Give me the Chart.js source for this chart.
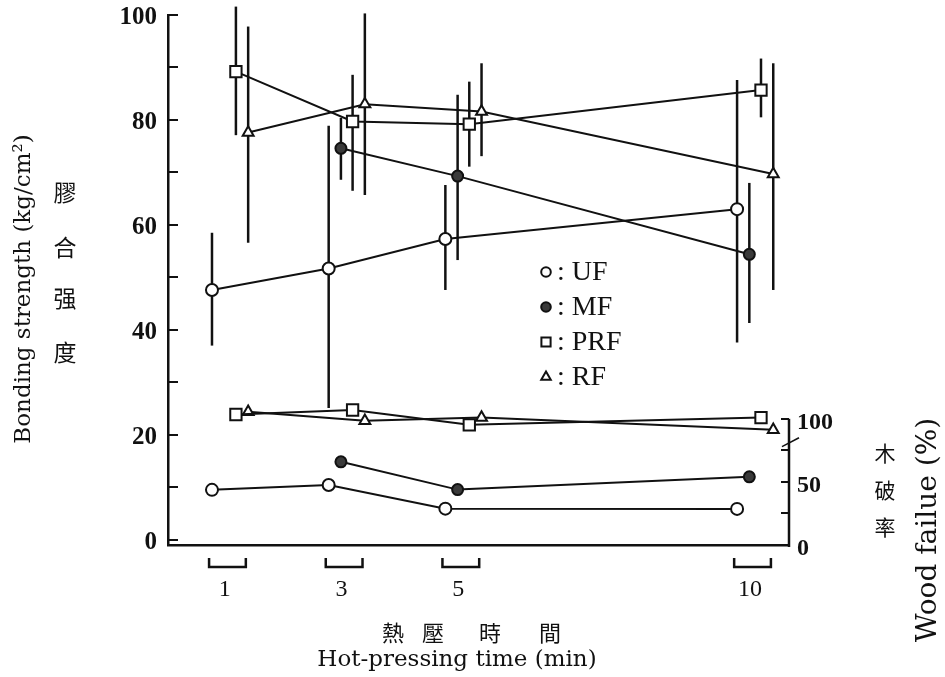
<!DOCTYPE html>
<html>
<head>
<meta charset="utf-8">
<script src="https://cdn.jsdelivr.net/npm/chart.js@4.4.1/dist/chart.umd.min.js"></script>
<style>
  html, body { margin: 0; padding: 0; background: #fff; }
</style>
</head>
<body>
<canvas id="chart" width="945" height="677"></canvas>
<script>
// hot-pressing time (min)
const pressTimes = [1, 3, 5, 10];
const timeLabels = ['1', '3', '5', '10'];

// bonding strength (kg/cm2): mean, lower and upper end of the bar
const ufStrength = [47.6, 51.7, 57.3, 63.0];
const ufLow = [37.0, 25.1, 47.6, 37.6];
const ufHigh = [58.5, 78.9, 67.6, 87.6];

const mfStrength = [null, 74.6, 69.3, 54.4];
const mfLow = [null, 68.6, 53.3, 41.3];
const mfHigh = [null, 80.4, 84.8, 68.0];

const prfStrength = [89.2, 79.7, 79.2, 85.7];
const prfLow = [77.1, 66.5, 71.1, 80.5];
const prfHigh = [101.6, 88.6, 87.3, 91.7];

const rfStrength = [77.6, 83.0, 81.6, 69.7];
const rfLow = [56.6, 65.7, 73.1, 47.6];
const rfHigh = [97.8, 100.3, 90.8, 90.8];

// wood failure (%)
const ufWood = [43.7, 47.6, 28.8, 28.6];
const mfWood = [null, 65.9, 43.9, 54.0];
const prfWood = [103.4, 107.0, 95.2, 101.0];
const rfWood = [105.6, 98.4, 101.0, 91.3];

// axis ticks
const strengthTicks = [0, 10, 20, 30, 40, 50, 60, 70, 80, 90, 100];
const strengthLabels = [0, 20, 40, 60, 80, 100];
const woodTicks = [0, 25, 50, 75, 100];
const woodLabels = [0, 50, 100];

const INK = '#111';
const SERIF = "'DejaVu Serif', serif";
const TIMES = "'Liberation Serif', serif";
const CJK = "'Noto Sans CJK TC', 'Noto Sans CJK SC', sans-serif";

// little sideways shift of each glue inside a time group
const dodge = { UF: 0, MF: 0.21, PRF: 0.41, RF: 0.62 };

const marks = {
  UF: { pointStyle: 'circle', pointRadius: 6, pointBackgroundColor: '#fff' },
  MF: { pointStyle: 'circle', pointRadius: 5.5, pointBackgroundColor: '#3a3a3a' },
  PRF: { pointStyle: 'rect', pointRadius: 8, pointBackgroundColor: '#fff' },
  RF: { pointStyle: 'triangle', pointRadius: 6.3, pointBackgroundColor: '#fff' }
};

function makeSeries(name, values, axis, low, high) {
  const pts = [], lo = [], hi = [];
  values.forEach((v, i) => {
    if (v === null) return;
    pts.push({ x: pressTimes[i] + dodge[name], y: v });
    if (low) { lo.push(low[i]); hi.push(high[i]); }
  });
  return Object.assign({
    label: name,
    data: pts,
    yAxisID: axis,
    borderColor: INK,
    borderWidth: 2,
    pointBorderColor: INK,
    pointBorderWidth: 2,
    pointHoverRadius: 6,
    tension: 0,
    fill: false,
    errLow: low ? lo : null,
    errHigh: high ? hi : null
  }, marks[name]);
}

const datasets = [
  makeSeries('UF', ufStrength, 'y', ufLow, ufHigh),
  makeSeries('MF', mfStrength, 'y', mfLow, mfHigh),
  makeSeries('PRF', prfStrength, 'y', prfLow, prfHigh),
  makeSeries('RF', rfStrength, 'y', rfLow, rfHigh),
  makeSeries('UF', ufWood, 'y2'),
  makeSeries('MF', mfWood, 'y2'),
  makeSeries('PRF', prfWood, 'y2'),
  makeSeries('RF', rfWood, 'y2')
];

// vertical bars for the spread of the strength values
const errorBars = {
  id: 'errorBars',
  beforeDatasetsDraw(chart) {
    const ctx = chart.ctx;
    ctx.save();
    ctx.strokeStyle = INK;
    ctx.lineWidth = 2.5;
    chart.data.datasets.forEach((ds, i) => {
      if (!ds.errLow) return;
      const meta = chart.getDatasetMeta(i);
      const ys = chart.scales[ds.yAxisID];
      meta.data.forEach((pt, j) => {
        ctx.beginPath();
        ctx.moveTo(pt.x, ys.getPixelForValue(ds.errLow[j]));
        ctx.lineTo(pt.x, ys.getPixelForValue(ds.errHigh[j]));
        ctx.stroke();
      });
    });
    ctx.restore();
  }
};

// right axis line (0-100 only), brackets under the time groups, texts, legend
const decor = {
  id: 'decor',
  afterDraw(chart) {
    const ctx = chart.ctx;
    const area = chart.chartArea;
    const xs = chart.scales.x;
    const y2 = chart.scales.y2;
    ctx.save();
    ctx.strokeStyle = INK;
    ctx.fillStyle = INK;

    // wood failure axis
    ctx.lineWidth = 2.5;
    ctx.beginPath();
    ctx.moveTo(area.right, y2.getPixelForValue(0) + 2);
    ctx.lineTo(area.right, y2.getPixelForValue(100));
    ctx.stroke();
    ctx.lineWidth = 1.5;
    ctx.beginPath();
    ctx.moveTo(area.right - 7, y2.getPixelForValue(78));
    ctx.lineTo(area.right + 10, y2.getPixelForValue(85));
    ctx.stroke();

    // group brackets
    ctx.lineWidth = 2.5;
    pressTimes.forEach(t => {
      const a = xs.getPixelForValue(t - 0.05);
      const b = xs.getPixelForValue(t + 0.58);
      ctx.beginPath();
      ctx.moveTo(a, area.bottom + 13);
      ctx.lineTo(a, area.bottom + 22);
      ctx.lineTo(b, area.bottom + 22);
      ctx.lineTo(b, area.bottom + 13);
      ctx.stroke();
    });

    ctx.textAlign = 'center';
    ctx.textBaseline = 'middle';

    // left titles
    ctx.font = '23px ' + SERIF;
    ctx.save();
    ctx.translate(24, 289);
    ctx.rotate(-Math.PI / 2);
    ctx.fillText('Bonding strength (kg/cm²)', 0, 0);
    ctx.restore();
    ctx.font = '23px ' + CJK;
    [['膠', 192], ['合', 247], ['强', 298], ['度', 352]].forEach(c => ctx.fillText(c[0], 65, c[1]));

    // right titles
    ctx.font = '21px ' + CJK;
    [['木', 453], ['破', 490], ['率', 527]].forEach(c => ctx.fillText(c[0], 885, c[1]));
    ctx.font = '28px ' + SERIF;
    ctx.save();
    ctx.translate(929, 530);
    ctx.rotate(-Math.PI / 2);
    ctx.fillText('Wood failue (%)', 0, 0);
    ctx.restore();

    // bottom titles
    ctx.font = '22px ' + CJK;
    [['熱', 393], ['壓', 433], ['時', 490], ['間', 550]].forEach(c => ctx.fillText(c[0], c[1], 633));
    ctx.font = '23px ' + SERIF;
    ctx.fillText('Hot-pressing time (min)', 457, 660);

    // legend
    const rows = ['UF', 'MF', 'PRF', 'RF'];
    const legendSize = { UF: 4.8, MF: 4.8, PRF: 6.5, RF: 5.5 };
    ctx.textAlign = 'left';
    ctx.font = '28px ' + TIMES;
    rows.forEach((name, i) => {
      const y = 272 + i * 35;
      ctx.fillStyle = marks[name].pointBackgroundColor;
      ctx.strokeStyle = INK;
      ctx.lineWidth = 2;
      Chart.helpers.drawPoint(ctx, { pointStyle: marks[name].pointStyle, radius: legendSize[name], rotation: 0, borderWidth: 2 }, 546, y);
      ctx.fillStyle = INK;
      ctx.fillText(': ' + name, 557, y + 1);
    });
    ctx.restore();
  }
};

function flatY(width) {
  return s => {
    s.width = width;
    s.paddingTop = 0;
    s.paddingBottom = 0;
  };
}

new Chart(document.getElementById('chart'), {
  type: 'line',
  data: { datasets },
  options: {
    responsive: false,
    animation: false,
    devicePixelRatio: 1,
    layout: { padding: { top: 15, left: 0, right: 0, bottom: 0 } },
    plugins: { legend: { display: false }, tooltip: { enabled: false } },
    scales: {
      x: {
        type: 'linear',
        min: 0.246,
        max: 10.89,
        afterFit: s => { s.height = 132; s.paddingLeft = 0; s.paddingRight = 0; },
        afterBuildTicks: s => { s.ticks = pressTimes.map(t => ({ value: t + 0.22 })); },
        grid: { display: true, drawOnChartArea: false, drawTicks: false },
        border: { display: true, color: INK, width: 2.5 },
        ticks: {
          autoSkip: false,
          maxRotation: 0,
          padding: 30,
          color: INK,
          font: { family: TIMES, size: 24 },
          callback: (v, i) => timeLabels[i]
        }
      },
      y: {
        position: 'left',
        min: -1,
        max: 100,
        afterFit: flatY(168),
        afterBuildTicks: s => { s.ticks = strengthTicks.map(v => ({ value: v })); },
        grid: { drawOnChartArea: false, drawTicks: true, tickLength: -10, color: INK, lineWidth: 2 },
        border: { display: true, color: INK, width: 2.5 },
        ticks: {
          autoSkip: false,
          padding: 21,
          labelOffset: 3,
          color: INK,
          font: { family: TIMES, size: 25, weight: 'bold' },
          callback: v => (strengthLabels.includes(v) ? String(v) : '')
        }
      },
      y2: {
        position: 'right',
        min: 0,
        max: 420,
        afterFit: flatY(156),
        afterBuildTicks: s => { s.ticks = woodTicks.map(v => ({ value: v })); },
        grid: { drawOnChartArea: false, drawTicks: true, tickLength: -8, color: INK, lineWidth: 2 },
        border: { display: false },
        ticks: {
          autoSkip: false,
          padding: 16,
          labelOffset: 4,
          color: INK,
          font: { family: TIMES, size: 24, weight: 'bold' },
          callback: v => (woodLabels.includes(v) ? String(v) : '')
        }
      }
    }
  },
  plugins: [errorBars, decor]
});
</script>
</body>
</html>
